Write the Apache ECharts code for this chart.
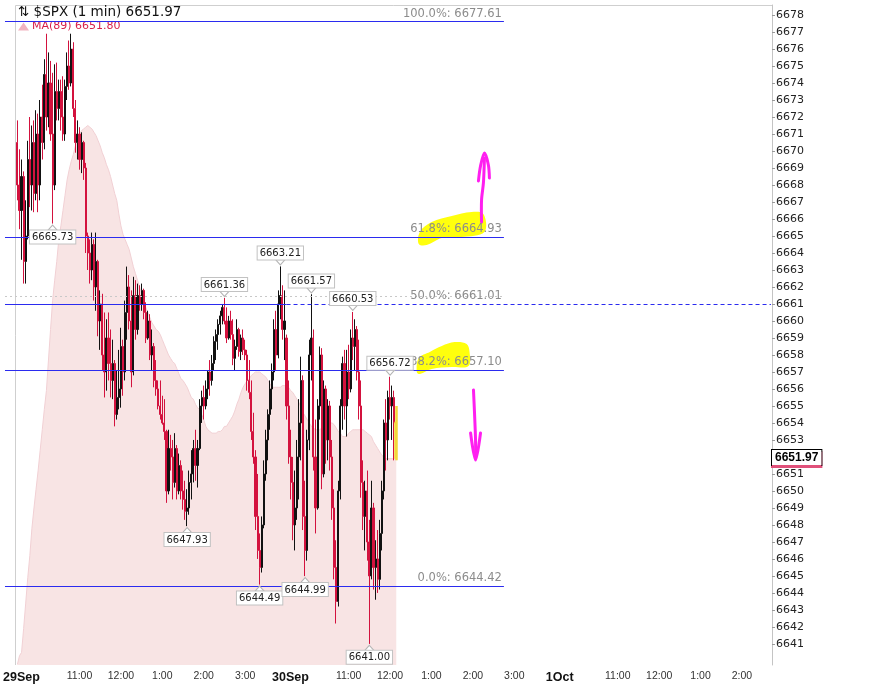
<!DOCTYPE html>
<html><head><meta charset="utf-8">
<script src="https://cdn.jsdelivr.net/npm/echarts@6.0.0/dist/echarts.min.js"></script>
<style>html,body{margin:0;padding:0;background:#fff}#c{width:883px;height:684px}</style>
</head><body><div id="c"></div>
<script>
// ---------- data ----------
const sessionDays = ['29Sep', '30Sep', '1Oct'];
const slotsPerDay = [130, 130, 105];          // 3-minute slots shown per session
const leadSlots = 6;                           // empty slots before the 29Sep open
const barMinutes = 3;

// 3-minute bars [open, close, low, high] — 29Sep
const day1Bars = [
 [6670.5,6668.0,6667.1,6671.8],[6668.0,6666.5,6665.4,6670.1],[6666.5,6668.5,6663.6,6669.5],[6668.5,6663.5,6662.2,6668.8],[6663.5,6665.0,6662.2,6667.1],
 [6665.0,6669.5,6664.8,6670.6],[6669.5,6668.0,6666.7,6672.0],[6668.0,6670.5,6666.5,6671.5],[6670.5,6667.5,6666.4,6671.8],[6667.5,6671.0,6667.1,6672.4],
 [6671.0,6668.0,6666.4,6672.2],[6668.0,6672.0,6667.1,6673.0],[6672.0,6670.5,6669.5,6673.9],[6670.5,6674.5,6670.1,6675.4],[6674.5,6672.0,6671.2,6676.9],
 [6672.0,6674.0,6671.4,6675.8],[6674.0,6671.0,6670.6,6675.3],[6671.0,6668.0,6665.73,6674.6],[6668.0,6673.5,6667.7,6675.1],[6673.5,6672.5,6671.8,6675.2],
 [6672.5,6673.5,6671.8,6674.2],[6673.5,6672.0,6671.2,6674.2],[6672.0,6671.0,6670.6,6674.4],[6671.0,6673.8,6670.6,6674.2],[6673.8,6675.0,6673.0,6675.8],
 [6675.0,6674.0,6673.6,6676.5],[6674.0,6676.0,6673.8,6676.9],[6676.0,6672.5,6672.0,6676.4],[6672.5,6670.5,6669.9,6673.0],[6670.5,6671.0,6669.5,6671.8],
 [6671.0,6669.5,6668.9,6671.4],[6669.5,6670.5,6668.7,6671.1],[6670.5,6669.0,6668.3,6670.6],[6669.0,6665.0,6664.0,6669.3],[6665.0,6664.0,6663.0,6665.2],
 [6664.0,6663.0,6662.2,6664.8],[6663.0,6664.5,6662.4,6665.2],[6664.5,6662.0,6661.2,6664.8],[6662.0,6663.5,6660.6,6665.2],[6663.5,6660.0,6659.1,6663.6],
 [6660.0,6661.0,6658.3,6661.8],[6661.0,6658.0,6657.1,6661.6],[6658.0,6657.0,6655.5,6660.5],[6657.0,6659.0,6655.9,6660.1],[6659.0,6657.5,6656.5,6660.5],
 [6657.5,6656.5,6655.5,6659.5],[6656.5,6657.5,6655.4,6658.9],[6657.5,6654.5,6653.8,6657.7],[6654.5,6655.5,6654.2,6657.1],[6655.5,6656.0,6654.8,6658.3],
 [6656.0,6658.5,6654.9,6659.6],[6658.5,6657.0,6655.6,6658.9],[6657.0,6660.5,6656.5,6661.2],[6660.5,6662.0,6658.9,6663.2],[6662.0,6660.0,6659.5,6662.7],
 [6660.0,6657.0,6656.1,6661.8],[6657.0,6661.5,6656.8,6662.6],[6661.5,6659.5,6658.9,6662.4],[6659.5,6661.5,6659.2,6662.2],[6661.5,6661.0,6660.6,6662.1],
 [6661.0,6661.8,6660.6,6662.2],[6661.8,6660.5,6660.1,6661.9],[6660.5,6659.0,6658.7,6661.1],[6659.0,6660.0,6658.9,6660.6],[6660.0,6658.0,6657.7,6660.4],
 [6658.0,6658.5,6657.1,6659.5],[6658.5,6656.5,6656.1,6658.7],[6656.5,6656.0,6655.6,6657.7],[6656.0,6655.0,6654.8,6656.5],[6655.0,6654.5,6654.2,6656.5],
 [6654.5,6654.0,6653.9,6655.6],[6654.0,6653.5,6653.0,6655.4],[6653.5,6650.0,6649.3,6653.6],[6650.0,6652.5,6649.8,6653.6],[6652.5,6652.0,6651.2,6653.3],
 [6652.0,6650.5,6649.5,6653.0],[6650.5,6652.5,6650.2,6653.4],[6652.5,6650.0,6649.5,6652.7],[6650.0,6651.5,6649.8,6652.2],[6651.5,6650.0,6649.5,6651.8],
 [6650.0,6649.5,6648.9,6651.2],[6649.5,6648.8,6648.3,6650.6],[6648.8,6649.0,6647.93,6650.1],[6649.0,6650.5,6648.6,6651.2],[6650.5,6651.0,6649.5,6652.4],
 [6651.0,6652.5,6650.5,6653.0],[6652.5,6651.5,6650.6,6653.6],[6651.5,6652.5,6650.2,6653.0],[6652.5,6655.0,6652.4,6655.4],[6655.0,6655.5,6654.0,6655.9],
 [6655.5,6655.0,6654.2,6656.2],[6655.0,6656.0,6654.8,6656.5],[6656.0,6657.0,6655.4,6657.1],[6657.0,6656.5,6655.6,6657.7],[6656.5,6657.5,6656.2,6658.0],
 [6657.5,6658.8,6657.1,6659.1],[6658.8,6659.2,6657.7,6659.5],[6659.2,6659.8,6658.3,6660.1],[6659.8,6660.3,6659.2,6660.6],[6660.3,6660.8,6659.8,6661.0],
 [6660.8,6660.0,6659.8,6661.36],[6660.0,6659.0,6658.7,6660.8],[6659.0,6660.0,6658.9,6660.3],[6660.0,6659.2,6658.9,6660.6],[6659.2,6657.8,6657.4,6660.1],
 [6657.8,6658.5,6657.1,6658.9],[6658.5,6659.5,6658.3,6660.1],[6659.5,6658.2,6657.9,6659.6],[6658.2,6659.0,6657.7,6659.2],[6659.0,6658.3,6658.0,6659.5],
 [6658.3,6658.0,6657.7,6658.9],[6658.0,6656.5,6655.9,6658.3],[6656.5,6655.8,6655.4,6657.7],[6655.8,6653.5,6653.0,6656.5],[6653.5,6652.0,6651.6,6654.6],
 [6652.0,6648.5,6647.7,6652.4],[6648.5,6646.5,6646.0,6651.0],[6646.5,6645.5,6644.49,6647.5],[6645.5,6648.0,6645.2,6648.5],[6648.0,6651.0,6647.8,6651.8],
 [6651.0,6653.0,6650.6,6653.6],[6653.0,6654.5,6651.8,6654.8],[6654.5,6656.0,6653.6,6656.5],[6656.0,6657.0,6654.8,6657.5],[6657.0,6659.5,6656.5,6660.1],
 [6659.5,6658.0,6657.1,6660.6],[6658.0,6661.0,6657.8,6661.8],[6661.0,6661.5,6660.1,6663.21],[6661.5,6659.5,6658.9,6662.1],[6659.5,6660.0,6657.7,6661.8]
];
// 3-minute bars [open, close, low, high] — 30Sep (to about 12:10)
const day2Bars = [
 [6659.0,6655.0,6654.2,6659.2],[6655.0,6652.0,6651.6,6656.5],[6652.0,6650.5,6649.5,6653.6],[6650.5,6648.0,6647.1,6652.0],[6648.0,6649.0,6646.5,6651.2],
 [6649.0,6652.0,6648.3,6653.0],[6652.0,6654.0,6649.5,6655.4],[6654.0,6656.5,6651.8,6657.9],[6656.5,6648.5,6647.7,6656.8],[6648.5,6646.5,6644.99,6650.6],
 [6646.5,6653.0,6645.9,6653.6],[6653.0,6658.0,6652.4,6658.9],[6658.0,6659.0,6656.5,6661.57],[6659.0,6652.0,6651.2,6659.5],[6652.0,6649.0,6647.5,6654.2],
 [6649.0,6655.0,6648.9,6655.4],[6655.0,6658.0,6654.2,6658.5],[6658.0,6651.0,6650.1,6658.4],[6651.0,6656.0,6650.8,6656.5],[6656.0,6653.0,6651.6,6656.2],
 [6653.0,6655.0,6651.8,6655.4],[6655.0,6652.0,6651.2,6655.3],[6652.0,6649.0,6648.3,6653.0],[6649.0,6645.5,6644.8,6650.1],[6645.5,6643.5,6642.2,6647.1],
 [6643.5,6650.0,6643.2,6650.6],[6650.0,6655.0,6649.5,6655.4],[6655.0,6657.5,6653.6,6657.9],[6657.5,6655.0,6654.2,6658.3],[6655.0,6657.0,6653.2,6658.3],
 [6657.0,6656.0,6655.4,6658.6],[6656.0,6659.0,6655.8,6659.5],[6659.0,6658.5,6657.7,6660.53],[6658.5,6659.5,6657.1,6660.1],[6659.5,6657.0,6656.5,6659.7],
 [6657.0,6655.0,6654.2,6658.9],[6655.0,6650.5,6649.6,6656.5],[6650.5,6648.5,6647.7,6651.8],[6648.5,6650.0,6646.5,6650.6],[6650.0,6647.0,6645.9,6651.2],
 [6647.0,6645.0,6641.0,6648.3],[6645.0,6649.0,6644.8,6650.6],[6649.0,6645.5,6644.2,6649.3],[6645.5,6646.0,6643.6,6647.1],[6646.0,6644.8,6644.0,6647.7],
 [6644.8,6647.5,6644.2,6648.3],[6647.5,6650.0,6646.5,6650.6],[6650.0,6654.0,6649.5,6654.2],[6654.0,6653.0,6651.2,6655.4],[6653.0,6655.5,6651.8,6655.9],
 [6655.5,6655.0,6654.2,6656.72],[6655.0,6655.5,6653.0,6656.2],[6655.5,6654.0,6651.8,6655.9],[6654.0,6651.97,6651.8,6655.0]
];
// MA(89) per 3-minute slot
const maDay1 = [
 6639.8,6640.3,6640.5,6641.9,6643.4,6644.9,6646.2,6647.8,6649.0,6650.1,
 6651.2,6652.4,6653.6,6654.8,6655.9,6657.7,6659.5,6661.2,6662.4,6663.5,
 6664.8,6665.6,6666.5,6667.4,6668.3,6668.9,6669.4,6669.8,6670.3,6670.6,
 6671.0,6671.2,6671.3,6671.4,6671.5,6671.4,6671.3,6671.1,6670.9,6670.6,
 6670.3,6669.9,6669.6,6669.2,6668.9,6668.5,6668.0,6667.5,6667.1,6666.3,
 6665.6,6665.1,6664.8,6664.5,6664.2,6663.7,6663.2,6662.8,6662.4,6662.0,
 6661.6,6661.2,6660.8,6660.5,6660.2,6659.9,6659.7,6659.5,6659.4,6659.2,
 6658.9,6658.6,6658.3,6658.0,6657.8,6657.6,6657.5,6657.2,6656.9,6656.6,
 6656.5,6656.3,6656.1,6655.8,6655.5,6655.4,6655.1,6654.9,6654.8,6654.5,
 6654.2,6653.8,6653.6,6653.5,6653.4,6653.4,6653.4,6653.5,6653.5,6653.6,
 6653.8,6653.8,6654.0,6654.2,6654.4,6654.7,6655.1,6655.4,6655.8,6656.1,
 6656.3,6656.5,6656.6,6656.8,6656.9,6657.0,6657.0,6657.0,6656.9,6656.8,
 6656.7,6656.5,6656.3,6656.1,6656.1,6656.1,6656.1,6656.1,6656.2,6656.2
];
const maDay2 = [
 6656.2,6656.1,6655.9,6655.8,6655.6,6655.4,6655.2,6654.9,6654.6,6654.4,
 6654.2,6654.0,6653.8,6653.7,6653.6,6653.6,6653.6,6653.7,6653.8,6653.9,
 6653.9,6654.0,6654.0,6653.9,6653.7,6653.5,6653.4,6653.2,6653.2,6653.2,
 6653.4,6653.5,6653.6,6653.6,6653.6,6653.6,6653.6,6653.6,6653.5,6653.4,
 6653.3,6653.2,6652.9,6652.7,6652.5,6652.3,6652.1,6652.0,6651.9,6651.9,
 6651.9,6651.9,6651.9,6651.8
];
const maLast = 6651.80;
// Fibonacci retracement levels
const fibLabels = ['100.0%', '61.8%', '50.0%', '38.2%', '0.0%'];
const fibValues = [6677.61, 6664.93, 6661.01, 6657.10, 6644.42];
const priorCloseLevel = 6661.45;
// labelled swing points
const pivotValues = [6665.73, 6647.93, 6661.36, 6644.49, 6663.21, 6644.99, 6661.57, 6660.53, 6641.00, 6656.72];
const pivotKinds  = ['low','low','high','low','high','low','high','high','low','high'];
// axis ticks
const yTicks = [6641,6642,6643,6644,6645,6646,6647,6648,6649,6650,6651,6652,6653,6654,6655,6656,6657,6658,6659,6660,
  6661,6662,6663,6664,6665,6666,6667,6668,6669,6670,6671,6672,6673,6674,6675,6676,6677,6678];
const yMin = 6639.76, yMax = 6678.59;
const timeTickKeys   = ['29Sep 09:30','29Sep 11:00','29Sep 12:00','29Sep 13:00','29Sep 14:00','29Sep 15:00',
                        '30Sep 09:30','30Sep 11:00','30Sep 12:00','30Sep 13:00','30Sep 14:00','30Sep 15:00',
                        '1Oct 09:30','1Oct 11:00','1Oct 12:00','1Oct 13:00','1Oct 14:00'];
const timeTickLabels = ['29Sep','11:00','12:00','1:00','2:00','3:00',
                        '30Sep','11:00','12:00','1:00','2:00','3:00',
                        '1Oct','11:00','12:00','1:00','2:00'];
// hand-drawn annotations [slot, price]
const yellowMark618 = [[199.9,6664.53],[200.4,6665.24],[206.1,6665.82],[215.8,6666.18],[225.4,6666.41],[231.1,6666.29],[231.6,6665.24],[220.6,6664.94],[211.0,6664.88],[203.7,6664.47]];
const yellowMark382 = [[198.9,6657.0],[199.9,6657.82],[205.2,6658.18],[211.0,6658.53],[217.2,6658.76],[223.0,6658.65],[224.4,6658.18],[223.9,6657.35],[215.8,6657.29],[206.1,6657.18],[200.4,6656.88]];
const upArrowShaft = [[230.2,6665.82],[230.2,6667.12],[231.1,6668.12],[231.6,6669.59]];
const upArrowHead  = [[228.7,6668.24],[229.7,6669.12],[231.6,6669.88],[233.5,6669.18],[234.0,6668.41]];
const downArrowShaft = [[226.3,6655.94],[226.8,6654.59],[227.3,6653.0],[227.3,6651.94]];
const downArrowHead  = [[224.9,6653.41],[227.3,6651.82],[229.7,6653.41]];

// ---------- build ----------
function hhmm(m) { return String(Math.floor(m / 60)).padStart(2, '0') + ':' + String(m % 60).padStart(2, '0'); }
const openMin = 9 * 60 + 30;
const categories = [];
for (let i = leadSlots; i > 0; i--) categories.push(sessionDays[0] + ' ' + hhmm(openMin - i * barMinutes));
sessionDays.forEach((d, di) => { for (let s = 0; s < slotsPerDay[di]; s++) categories.push(d + ' ' + hhmm(openMin + s * barMinutes)); });
const tickMap = new Map();
timeTickKeys.forEach((k, i) => tickMap.set(k, { label: timeTickLabels[i], date: /Sep|Oct/.test(timeTickLabels[i]) }));

const day2Start = leadSlots + slotsPerDay[0];
const candleData = [];
day1Bars.forEach((b, j) => candleData.push([leadSlots + j].concat(b)));
day2Bars.forEach((b, k) => candleData.push([day2Start + k].concat(b)));
const lastClose = day2Bars[day2Bars.length - 1][1];
const candleItems = candleData.map((v, i) => i === candleData.length - 1
  ? { value: v, itemStyle: { color0: '#d3123e', borderColor0: '#f4d83a', borderWidth: 2.5 } }
  : v);
const maData = [];
maDay1.forEach((v, j) => maData.push([leadSlots + j, v]));
maDay2.forEach((v, k) => maData.push([day2Start + k, v]));

const lastSlot = categories.length - 1;
const fibEndSlot = 241;
const blue = '#2b2bef';
const fibLabelStyle = { show: true, position: 'insideEndTop', distance: 2, color: '#8c8c8c', fontSize: 11.5, fontFamily: 'DejaVu Sans' };
const markLines = [];
fibValues.forEach((v, i) => {
  const txt = fibLabels[i] + ': ' + v.toFixed(2);
  if (fibLabels[i] === '50.0%') {
    markLines.push([{ coord: [0, v], lineStyle: { color: blue, width: 1, type: 'solid' } }, { coord: [day2Start, v] }]);
    markLines.push([{ coord: [day2Start, v], lineStyle: { color: blue, width: 1.2, type: [4, 3] } }, { coord: [lastSlot, v] }]);
    markLines.push([{ coord: [0, v], lineStyle: { color: 'rgba(0,0,0,0)', width: 0 }, label: Object.assign({ formatter: txt }, fibLabelStyle) }, { coord: [fibEndSlot, v] }]);
  } else {
    markLines.push([{ coord: [0, v], lineStyle: { color: blue, width: 1, type: 'solid' }, label: Object.assign({ formatter: txt }, fibLabelStyle) }, { coord: [fibEndSlot, v] }]);
  }
});
markLines.push([{ coord: [0, priorCloseLevel], lineStyle: { color: '#c8c8c8', width: 1, type: [2, 3] } }, { coord: [fibEndSlot, priorCloseLevel] }]);
markLines.push({
  yAxis: lastClose, lineStyle: { color: 'rgba(0,0,0,0)', width: 0 },
  label: { show: true, position: 'end', distance: 0, formatter: lastClose.toFixed(2), color: '#000', fontWeight: 'bold',
    fontSize: 12, fontFamily: 'Liberation Sans', backgroundColor: '#fff', borderColor: '#000', borderWidth: 1, padding: [2, 3, 1, 3],
    shadowColor: '#e0507a', shadowOffsetY: 2, shadowBlur: 0 }
});

const markPoints = pivotValues.map((v, i) => {
  const high = pivotKinds[i] === 'high';
  const item = candleData.find(c => Math.abs((high ? c[4] : c[3]) - v) < 1e-6);
  return {
    coord: [item[0], v],
    symbol: high ? 'path://M0,0L10,0L5,6Z' : 'path://M5,0L10,6L0,6Z',
    symbolSize: [9, 5], symbolOffset: [0, high ? -4 : 4],
    itemStyle: { color: '#fff', borderColor: '#b5b5b5', borderWidth: 1 },
    label: { show: true, position: high ? 'top' : 'bottom', distance: 0, formatter: v.toFixed(2),
      backgroundColor: '#fff', borderColor: '#c2c2c2', borderWidth: 1, padding: [2, 2, 1, 2],
      color: '#222', fontSize: 10, fontFamily: 'DejaVu Sans' }
  };
});

const annotations = [
  { kind: 'fill', pts: yellowMark618 }, { kind: 'fill', pts: yellowMark382 },
  { kind: 'stroke', pts: upArrowShaft }, { kind: 'stroke', pts: upArrowHead },
  { kind: 'stroke', pts: downArrowShaft }, { kind: 'stroke', pts: downArrowHead }
];

const chart = echarts.init(document.getElementById('c'), null, { renderer: 'canvas' });
chart.setOption({
  animation: false,
  backgroundColor: '#fff',
  title: { text: '⇅ $SPX (1 min) ' + lastClose.toFixed(2), left: 13, top: 0,
    textStyle: { fontSize: 13.5, fontWeight: 'normal', color: '#111', fontFamily: 'DejaVu Sans' } },
  legend: { left: 13, top: 18, padding: [3, 5], itemWidth: 11, itemHeight: 8, itemGap: 4, selectedMode: false,
    data: [{ name: 'MA(89)', icon: 'triangle', itemStyle: { color: '#f2b3c0' } }],
    formatter: n => n + ' ' + maLast.toFixed(2),
    textStyle: { color: '#d81e4a', fontSize: 11, fontFamily: 'DejaVu Sans', padding: [0, 0, 0, -2] } },
  grid: { left: 0, right: 111, top: 5, bottom: 19, containLabel: false },
  xAxis: { type: 'category', data: categories, boundaryGap: true,
    axisLine: { show: false }, axisTick: { show: false }, splitLine: { show: false },
    axisLabel: { interval: (idx, val) => tickMap.has(val), margin: 6,
      formatter: val => { const t = tickMap.get(val); if (!t) return ''; return t.date ? '{d|' + t.label + '}' : '{t|' + t.label + '}'; },
      rich: { d: { fontWeight: 'bold', fontSize: 12.5, fontFamily: 'Liberation Sans', color: '#111', padding: [0, 0, 0, 8] },
              t: { fontSize: 10.5, fontFamily: 'Liberation Sans', color: '#333' } } } },
  yAxis: { type: 'value', position: 'right', min: yMin, max: yMax,
    axisLine: { show: true, lineStyle: { color: '#c4c4c4' } },
    axisTick: { show: true, length: 3, lineStyle: { color: '#9a9a9a' }, customValues: yTicks },
    axisLabel: { customValues: yTicks, margin: 4, color: '#222', fontSize: 11, fontFamily: 'DejaVu Sans', formatter: v => String(v) },
    splitLine: { show: false } },
  graphic: [{ type: 'polyline', silent: true, z: 0, shape: { points: [[15.5, 665], [15.5, 5.5], [772, 5.5]] },
    style: { stroke: '#cfcfcf', lineWidth: 1, fill: null } }],
  series: [
    { name: 'MA(89)', type: 'line', data: maData, z: 1, symbol: 'none', silent: true,
      lineStyle: { color: '#f1d0d4', width: 1 }, areaStyle: { color: '#f8e4e4', opacity: 1 } },
    { type: 'custom', z: 1, silent: true, encode: { x: 0, y: 1 },
      data: annotations.map(a => [Math.round(a.pts[0][0]), a.pts[0][1]]),
      renderItem: (params, api) => {
        const a = annotations[params.dataIndex];
        const pts = a.pts.map(p => {
          const f = Math.floor(p[0]);
          const c0 = api.coord([f, p[1]]), c1 = api.coord([f + 1, p[1]]);
          return [c0[0] + (c1[0] - c0[0]) * (p[0] - f), c0[1]];
        });
        if (a.kind === 'fill') return { type: 'polygon', shape: { points: pts, smooth: 0.35 }, style: { fill: '#ffff00', opacity: 0.95 } };
        return { type: 'polyline', shape: { points: pts, smooth: 0.3 },
          style: { stroke: '#ff1ff0', lineWidth: 3, fill: null, lineCap: 'round', lineJoin: 'round' } };
      } },
    { type: 'candlestick', name: '$SPX', data: candleItems, z: 2, silent: true,
      encode: { x: 0, y: [1, 2, 3, 4] }, barWidth: 1.6,
      itemStyle: { color: '#111', color0: '#d3123e', borderColor: '#111', borderColor0: '#d3123e', borderWidth: 1 },
      markLine: { silent: true, symbol: ['none', 'none'], label: { show: false }, data: markLines },
      markPoint: { silent: true, data: markPoints } }
  ]
});
</script>
</body></html>
